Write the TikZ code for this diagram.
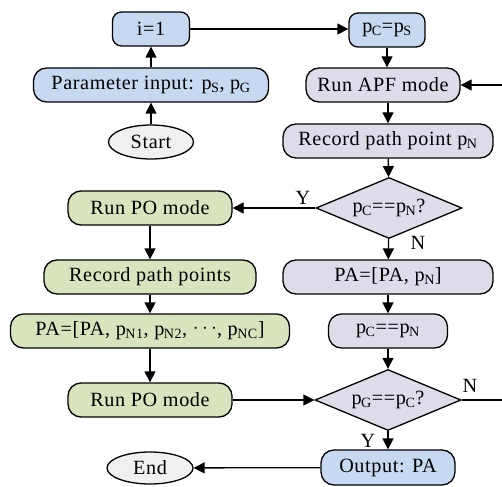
\documentclass[tikz,border=0pt]{standalone}
\usepackage{fontspec}
\setmainfont[LetterSpace=3]{Liberation Serif}
\usetikzlibrary{shapes.geometric,arrows.meta}
\definecolor{cblue}{RGB}{198,217,240}
\definecolor{cpurp}{RGB}{224,219,233}
\definecolor{cgreen}{RGB}{215,228,189}
\definecolor{cgray}{RGB}{240,240,240}
\newcommand{\sub}[1]{\textsubscript{\hspace{-0.5pt}#1}}
\begin{document}
\begin{tikzpicture}[x=1pt,y=-1pt,
  font=\fontsize{20.2}{23}\selectfont,
  box/.style={draw=black, line width=1.3pt, rounded corners=13pt, inner sep=0pt, minimum height=34pt},
  sbox/.style={box, rounded corners=9pt},
  oval/.style={draw=black, line width=1.3pt, ellipse, inner sep=0pt, fill=cgray},
  dec/.style={draw=black, line width=1.3pt, diamond, inner sep=0pt, minimum width=146pt, minimum height=61pt, fill=cpurp},
  arr/.style={line width=1.3pt, -{Triangle[length=11pt,width=11pt]}},
  ln/.style={line width=1.3pt},
  lab/.style={inner sep=0pt}]
\useasboundingbox (0,0) rectangle (502,486);
% left column
\node[sbox, fill=cblue, minimum width=77pt] (i1) at (151,29) {i=1};
\node[box, fill=cblue, minimum width=235pt] (par) at (151,85) {Parameter input: p\sub{S}, p\sub{G}};
\node[oval, minimum width=85pt, minimum height=34pt] (start) at (151,142) {Start};
\node[box, fill=cgreen, minimum width=164pt] (po1) at (150,208) {Run PO mode};
\node[box, fill=cgreen, minimum width=212pt] (recs) at (150,277) {Record path points};
\node[box, fill=cgreen, minimum width=279pt] (pa2) at (150,331) {PA=[PA, p\sub{N1}, p\sub{N2}, \raisebox{2pt}{$\cdots$}, p\sub{NC}]};
\node[box, fill=cgreen, minimum width=164pt] (po2) at (150,400) {Run PO mode};
\node[oval, minimum width=86pt, minimum height=32pt] (end) at (150,468) {End};
% right column
\node[sbox, fill=cblue, minimum width=76pt] (pcps) at (387,30) {p\sub{C}=p\sub{S}};
\node[box, fill=cpurp, minimum width=154pt] (apf) at (383,85) {Run APF mode};
\node[box, fill=cpurp, minimum width=210pt] (rec) at (388,141) {Record path point p\sub{N}};
\node[dec, label={center:p\sub{C}==p\sub{N}?}] (d1) at (389,208) {};
\node[box, fill=cpurp, minimum width=210pt] (pan) at (388,277) {PA=[PA, p\sub{N}]};
\node[box, fill=cpurp, minimum width=119pt] (pcpn) at (388,331) {p\sub{C}==p\sub{N}};
\node[dec, label={center:p\sub{G}==p\sub{C}?}] (d2) at (388,400) {};
\node[box, fill=cblue, minimum width=134pt, minimum height=35pt] (out) at (388,467.5) {Output: PA};
\coordinate (loopA) at (540,400);
\coordinate (loopB) at (540,85);
% connectors
\draw[arr] (start) -- (par);
\draw[arr] (par) -- (i1);
\draw[arr] (i1.east) -- (i1.east -| pcps.west);
\draw[arr] (pcps) -- (apf.north -| pcps);
\draw[arr] (apf.south -| rec) -- (rec);
\draw[arr] (rec) -- (d1);
\draw[arr] (d1) -- (po1);
\node[lab] at (303,198) {Y};
\draw[arr] (d1) -- (pan);
\node[lab] at (418,243) {N};
\draw[arr] (pan) -- (pcpn);
\draw[arr] (pcpn) -- (d2);
\draw[arr] (po1) -- (recs);
\draw[arr] (recs) -- (pa2);
\draw[arr] (pa2) -- (po2);
\draw[arr] (po2) -- (d2);
\draw[arr] (d2) -- (out);
\node[lab] at (368,441) {Y};
\node[lab] at (470,386) {N};
\draw[arr] (out) -- (end);
\draw[ln] (d2.east) -- (loopA) -- (loopB);
\draw[arr] (loopB) -- (apf.east);
\end{tikzpicture}
\end{document}
